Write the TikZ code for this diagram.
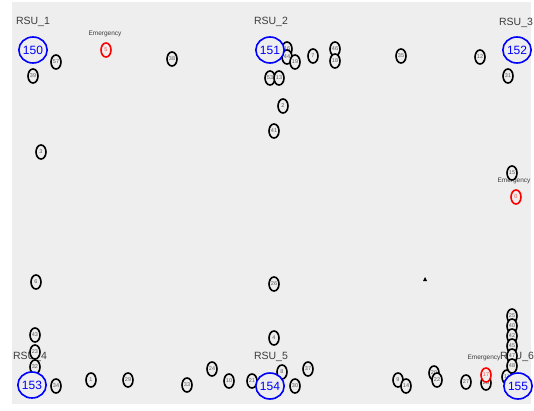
\documentclass[tikz,border=0pt]{standalone}
\usepackage{fontspec}
\setmainfont{Liberation Sans}
\usetikzlibrary{shapes.geometric}
\definecolor{namgray}{RGB}{238,238,238}
\definecolor{labgray}{RGB}{60,60,60}
\tikzset{
  vehicle/.style={ellipse,draw=black,fill=namgray,line width=1.6pt,inner sep=0pt,minimum width=10pt,minimum height=14pt,text=black!65,font=\fontsize{5.5}{5.5}\selectfont},
  emerg/.style={vehicle,draw=red,text=red!70},
  rsu/.style={ellipse,draw=blue,fill=namgray,line width=1.6pt,inner sep=0pt,minimum width=20pt,minimum height=26pt,text=blue,font=\fontsize{12}{12}\selectfont},
  rsulabel/.style={text=labgray,inner sep=0pt,font=\fontsize{10.5}{10.5}\selectfont},
  emlabel/.style={text=labgray,inner sep=0pt,font=\fontsize{6.5}{6.5}\selectfont}
}
\begin{document}
\begin{tikzpicture}[x=1pt,y=-1pt]
  \useasboundingbox (0,0) rectangle (534,410);
  \fill[white] (0,0) rectangle (534,410);
  \fill[namgray] (12,2) rectangle (531,404);
  \node[rsulabel] (l1) at (33,22) {RSU\_1};
  \node[rsulabel] (l2) at (271,22) {RSU\_2};
  \node[rsulabel] (l3) at (516,23) {RSU\_3};
  \node[rsulabel] (l4) at (30,357) {RSU\_4};
  \node[rsulabel] (l5) at (271,357) {RSU\_5};
  \node[rsulabel] (l6) at (517,357) {RSU\_6};
  \node[emlabel] (e1) at (105,34) {Emergency};
  \node[emlabel] (e2) at (514,181) {Emergency};
  \node[emlabel] (e3) at (484,358) {Emergency};
  \foreach \x/\y/\n in {56/62/57,33/76/39,172/59/38,287/49/16,287/57/44,295/62/19,313/56/7,335/49/46,335/61/18,270/78/53,279/78/13,283/106/2,274/131/41,401/56/35,480/57/12,508/76/31,41/152/3,36/282/6,512/173/15,274/284/26,274/338/4,35/335/43,35/352/23,35/367/32,56/386/34,91/380/1,128/380/29,187/385/33,212/369/24,229/381/10,252/381/21,267/382/36,282/372/8,295/386/30,308/369/37,398/380/9,406/386/14,434/373/20,437/380/22,466/382/27,486/383/28,507/377/11,512/316/25,512/326/40,512/336/42,512/346/45,512/356/47,512/366/48}
    \node[vehicle] (v\n) at (\x,\y) {\n};
  \node[emerg] (v5) at (106,50) {5};
  \node[emerg] (v0) at (516,197) {0};
  \node[emerg] (v17) at (486,375) {17};
  \node[rsu] (r150) at (33,50) {150};
  \node[rsu] (r151) at (270,50) {151};
  \node[rsu] (r152) at (517,50) {152};
  \node[rsu] (r153) at (32,385) {153};
  \node[rsu] (r154) at (270,386) {154};
  \node[rsu] (r155) at (518,386) {155};
  \fill[black] (423,281) -- (427,281) -- (425,277) -- cycle;
\end{tikzpicture}
\end{document}
